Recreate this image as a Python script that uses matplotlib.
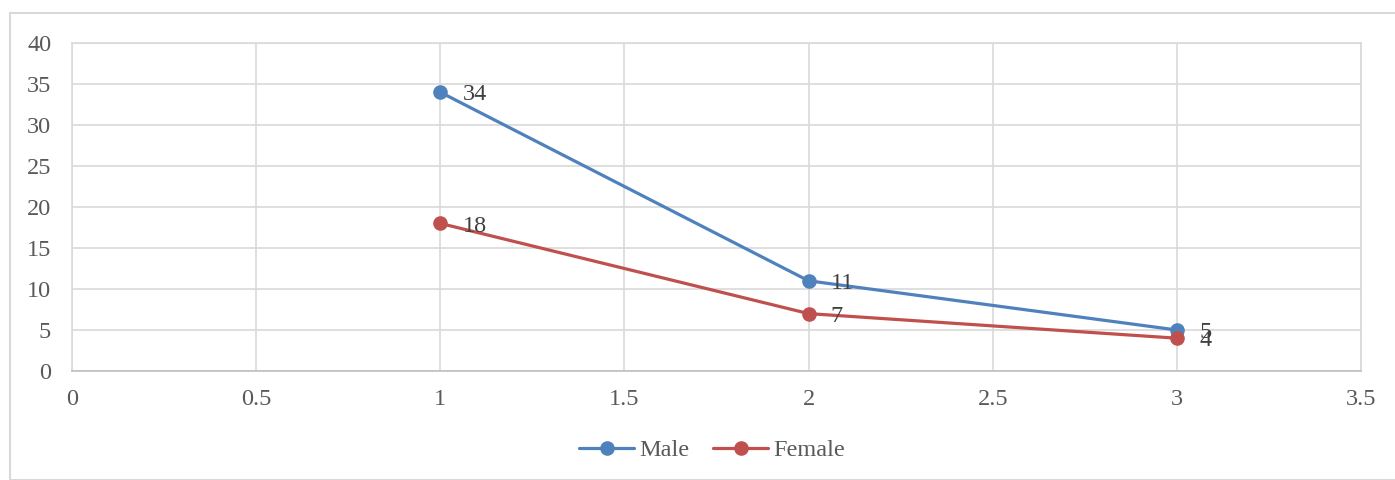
import matplotlib.pyplot as plt
from matplotlib.patches import Rectangle

# data
x_vals = [1, 2, 3]
male = [34, 11, 5]
female = [18, 7, 4]
series_names = ['Male', 'Female']
colors = ['#4f81bd', '#c0504d']

plt.rcParams['font.family'] = ['Liberation Serif', 'DejaVu Serif']
text_color = '#595959'
grid_color = '#d9d9d9'
fs = 17.5

fig = plt.figure(figsize=(13.95, 4.8), dpi=100)
ax = fig.add_axes([72 / 1395, 1 - 371 / 480, (1361 - 72) / 1395, (371 - 43) / 480])

# chart border like excel
fig.patches.append(Rectangle((10 / 1395, 0), 1.2, 1 - 13 / 480, transform=fig.transFigure,
                             fill=False, edgecolor=grid_color, linewidth=1.5, zorder=0))

for vals, name, c in zip([male, female], series_names, colors):
    ax.plot(x_vals, vals, color=c, linewidth=2.3, marker='o', markersize=9.5,
            label=name, zorder=3, solid_capstyle='round')
    for xv, yv in zip(x_vals, vals):
        ax.annotate(str(yv), (xv, yv), xytext=(16, -2), textcoords='offset points',
                    va='center', ha='left', fontsize=fs, color='#404040')

ax.set_xlim(0, 3.5)
ax.set_ylim(0, 40)
ax.set_xticks([0, 0.5, 1, 1.5, 2, 2.5, 3, 3.5])
ax.set_xticklabels(['0', '0.5', '1', '1.5', '2', '2.5', '3', '3.5'])
ax.set_yticks(range(0, 41, 5))
ax.grid(True, color=grid_color, linewidth=1.2)
ax.set_axisbelow(True)
for s in ax.spines.values():
    s.set_color(grid_color)
    s.set_linewidth(1.2)
ax.spines['bottom'].set_color('#bfbfbf')
ax.tick_params(length=0, labelsize=fs, colors=text_color, pad=13)
ax.tick_params(axis='y', pad=15)

leg = fig.legend(loc='center', bbox_to_anchor=(712 / 1395, 1 - 450 / 480), ncol=2, frameon=False,
                 fontsize=fs, handlelength=2.25, columnspacing=1.0, handletextpad=0.2,
                 labelcolor=text_color)

fig.savefig('out.png', dpi=100)
